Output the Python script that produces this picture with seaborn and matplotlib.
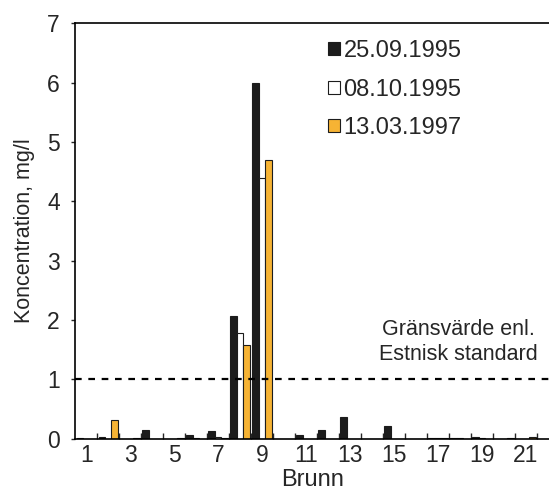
import numpy as np
import pandas as pd
import seaborn as sns
import matplotlib.pyplot as plt
from matplotlib.ticker import FixedLocator

# wells 1..21, concentration mg/l per sampling date
wells = list(range(1, 22))
dates = ['25.09.1995', '08.10.1995', '13.03.1997']
conc_1995_09 = [0.02, 0.03, 0.00, 0.15, 0.00, 0.07, 0.13, 2.07, 6.00, 0.00, 0.07,
                0.14, 0.37, 0.00, 0.21, 0.00, 0.02, 0.01, 0.03, 0.00, 0.00]
conc_1995_10 = [0.00, 0.00, 0.00, 0.00, 0.00, 0.01, 0.03, 1.78, 4.40, 0.00, 0.00,
                0.00, 0.00, 0.00, 0.00, 0.00, 0.01, 0.01, 0.01, 0.00, 0.00]
conc_1997_03 = [0.00, 0.31, 0.02, 0.00, 0.01, 0.00, 0.02, 1.58, 4.70, 0.00, 0.00,
                0.00, 0.00, 0.00, 0.00, 0.00, 0.01, 0.00, 0.00, 0.01, 0.03]
limit_value = 1.0
limit_text = 'Gränsvärde enl.\nEstnisk standard'
colors = ['#1c1c1c', '#ffffff', '#f6b334']

df = pd.DataFrame({
    'Brunn': wells * 3,
    'Datum': [dates[0]] * 21 + [dates[1]] * 21 + [dates[2]] * 21,
    'Konc': conc_1995_09 + conc_1995_10 + conc_1997_03,
})

sns.set_style('white')
plt.rcParams['font.family'] = ['Liberation Sans', 'DejaVu Sans']

fig = plt.figure(figsize=(5.49, 4.93), dpi=100)
ax = fig.add_axes([0.137, 0.11, 0.863, 0.843])

sns.barplot(data=df, x='Brunn', y='Konc', hue='Datum', order=wells, hue_order=dates,
            palette=colors, width=0.88, edgecolor='#1c1c1c', linewidth=0.8,
            saturation=1, ax=ax)

ax.axhline(limit_value, color='black', linestyle=(0, (3, 3)), linewidth=1.6)
ax.text(0.808, (limit_value + 0.25) / 7, limit_text, transform=ax.transAxes,
        ha='center', va='bottom', fontsize=15.5, linespacing=1.22)

ax.set_xlim(-0.5, 21.05)
ax.set_ylim(0, 7)
ax.set_yticks(range(0, 8))
ax.set_xticks(range(0, 21, 2))
ax.set_xticklabels([str(w) for w in wells[::2]])
ax.xaxis.set_minor_locator(FixedLocator(np.arange(0.5, 21, 1)))
ax.tick_params(axis='x', which='major', length=0, labelsize=16.5, pad=4)
ax.tick_params(axis='x', which='minor', direction='in', length=4, width=1, bottom=True)
ax.tick_params(axis='y', which='major', direction='out', length=3, width=1, left=True,
               labelsize=16.5, pad=8)

ax.set_xlabel('Brunn', fontsize=17, labelpad=1)
ax.set_ylabel('Koncentration, mg/l', fontsize=15.5, labelpad=9)

for side in ['left', 'bottom', 'top']:
    ax.spines[side].set_color('black')
    ax.spines[side].set_linewidth(1.2)
ax.spines['right'].set_visible(False)

leg = ax.legend(loc='upper left', bbox_to_anchor=(0.514, 0.982), frameon=False,
                fontsize=17, handlelength=0.5, handleheight=0.5, handletextpad=0.15,
                labelspacing=0.7, borderaxespad=0)

fig.savefig('out.png', dpi=100)
